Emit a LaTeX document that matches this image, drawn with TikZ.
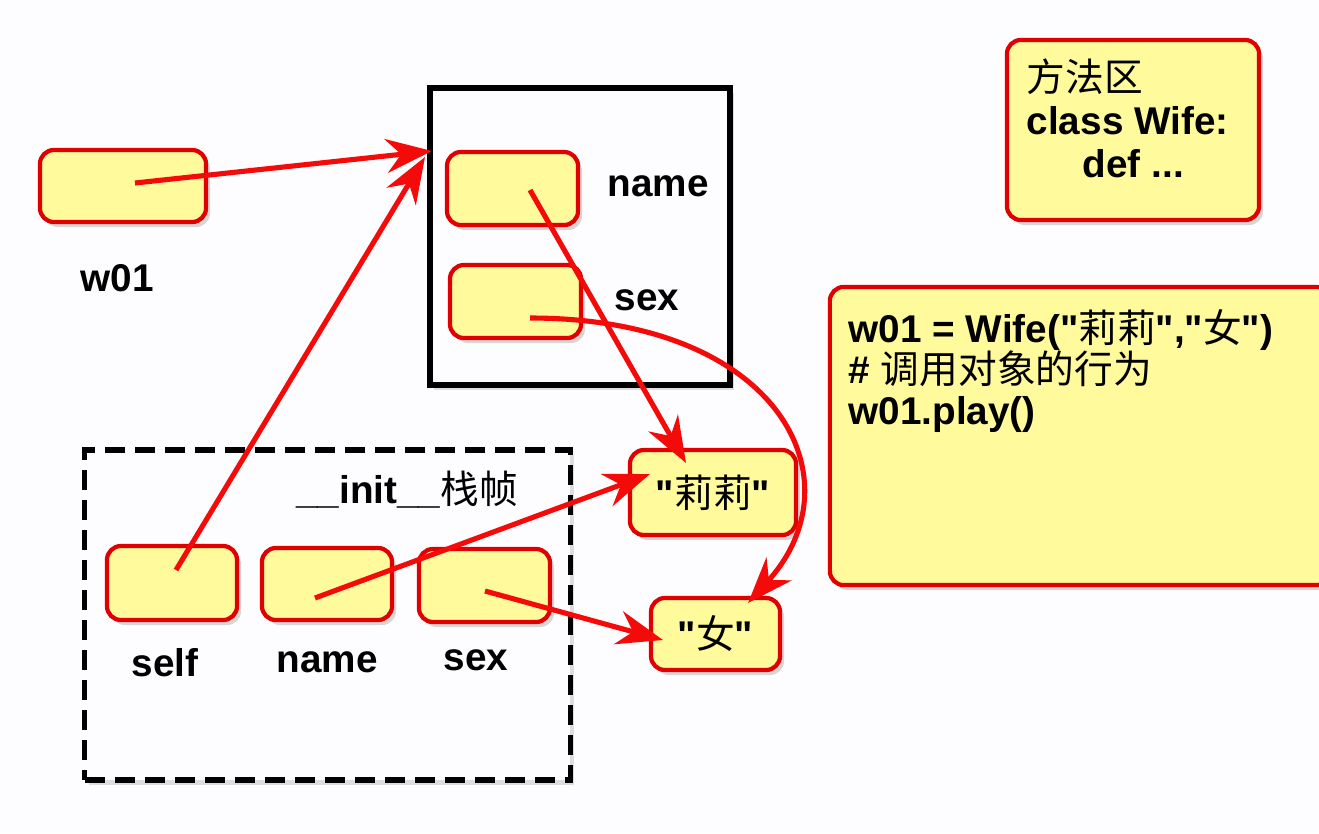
\documentclass[tikz,border=0pt]{standalone}
\usepackage{fontspec}
\setmainfont{Liberation Sans}
\newfontfamily\lsans{Liberation Sans}
\newfontfamily\cjk{Noto Sans CJK SC}
\usetikzlibrary{arrows.meta,shadows}
\definecolor{boxyellow}{RGB}{255,250,155}
\definecolor{boxred}{RGB}{225,0,0}
\definecolor{arrred}{RGB}{245,10,10}
\definecolor{bg}{RGB}{253,252,254}
\newcommand{\qt}{{\lsans\char34\relax}}
\tikzset{
  membox/.style={draw=boxred, fill=boxyellow, rounded corners=0.14cm, line width=1.2pt,
    drop shadow={shadow xshift=0.04cm, shadow yshift=-0.05cm, opacity=0.3}},
  lbl/.style={font=\fontsize{11}{12}\selectfont\bfseries, inner sep=0pt},
  ptr/.style={draw=arrred, line width=1.45pt, -{Stealth[length=0.46cm, width=0.34cm, inset=0.15cm]}},
  framebox/.style={draw=black, line width=1.5pt, fill=none}
}
\begin{document}
\begin{tikzpicture}[x=0.01cm, y=-0.01cm]
\useasboundingbox (0,0) rectangle (1319,833);
\fill[bg] (0,0) rectangle (1319,833);

% object box
\node[framebox, minimum width=3.0cm, minimum height=2.97cm, inner sep=0pt,
  drop shadow={shadow xshift=0.04cm, shadow yshift=-0.05cm, opacity=0.25}, fill=bg] (obj) at (580,236.5) {};
\node[membox, minimum width=1.31cm, minimum height=0.73cm] (oname) at (512.5,188.5) {};
\node[membox, minimum width=1.31cm, minimum height=0.73cm] (osex) at (515.5,301.5) {};
\node[lbl] (onamel) at (658,186) {name};
\node[lbl] (osexl) at (647,300) {sex};

% frame box
\node[framebox, dash pattern=on 0.2cm off 0.1cm, minimum width=4.85cm, minimum height=3.30cm, inner sep=0pt,
  drop shadow={shadow xshift=0.04cm, shadow yshift=-0.05cm, opacity=0.25}, fill=bg] (frame) at (327.5,615) {};
\node[lbl] (framel) at (407,490) {\_\_init\_\_{\cjk\mdseries 栈帧}};
\node[membox, minimum width=1.30cm, minimum height=0.74cm] (fself) at (172,583) {};
\node[membox, minimum width=1.30cm, minimum height=0.72cm] (fname) at (327,584) {};
\node[membox, minimum width=1.31cm, minimum height=0.73cm] (fsex) at (484.5,585.5) {};
\node[lbl] (fselfl) at (165,663) {self};
\node[lbl] (fnamel) at (327,662) {name};
\node[lbl] (fsexl) at (476,660) {sex};

% w01
\node[membox, minimum width=1.66cm, minimum height=0.72cm] (w01) at (123,186) {};
\node[lbl] (w01l) at (117,278) {w01};

% values
\node[membox, minimum width=1.66cm, minimum height=0.85cm, font=\fontsize{11}{12}\selectfont\bfseries] (lili) at (713,492.5) {\qt{\cjk\mdseries 莉莉}\qt};
\node[membox, minimum width=1.29cm, minimum height=0.72cm, font=\fontsize{11}{12}\selectfont\bfseries] (nv) at (715.5,634) {\qt{\cjk\mdseries 女}\qt};

% method area
\node[membox, minimum width=2.52cm, minimum height=1.80cm] (method) at (1133,130) {};
\node[anchor=north west, inner sep=0pt, align=left, font=\fontsize{11}{12.3}\selectfont] (methodt) at (1026,58)
  {{\cjk 方法区}\\ \textbf{class Wife:}\\ \hspace{0.56cm}\textbf{def ...}};

% code area
\node[membox, minimum width=5.0cm, minimum height=2.98cm] (code) at (1080,436) {};
\node[anchor=north west, inner sep=0pt, align=left, font=\fontsize{11}{11.7}\selectfont\bfseries] (codet) at (848,309)
  {w01 = Wife(\qt{\cjk\mdseries 莉莉}\qt,\qt{\cjk\mdseries 女}\qt)\\ \# {\cjk\mdseries 调用对象的行为}\\ w01.play()};

% pointer coordinates
\coordinate (w01p) at (135,183);
\coordinate (objin1) at (432,151);
\coordinate (objin2) at (425,157);
\coordinate (selfp) at (176,570);
\coordinate (onamep) at (530,190);
\coordinate (lilitop) at (686,463);
\coordinate (osexp) at (530,318);
\coordinate (nvtop) at (748,603);
\coordinate (fnamep) at (315,598);
\coordinate (lilileft) at (650,474);
\coordinate (fsexp) at (485,591);
\coordinate (nvleft) at (663,640);

\draw[ptr] (w01p) -- (objin1);
\draw[ptr] (selfp) -- (objin2);
\draw[ptr] (onamep) -- (lilitop);
\draw[ptr] (osexp) .. controls (780,318) and (860,480) .. (nvtop);
\draw[ptr] (fnamep) -- (lilileft);
\draw[ptr] (fsexp) -- (nvleft);
\end{tikzpicture}
\end{document}
